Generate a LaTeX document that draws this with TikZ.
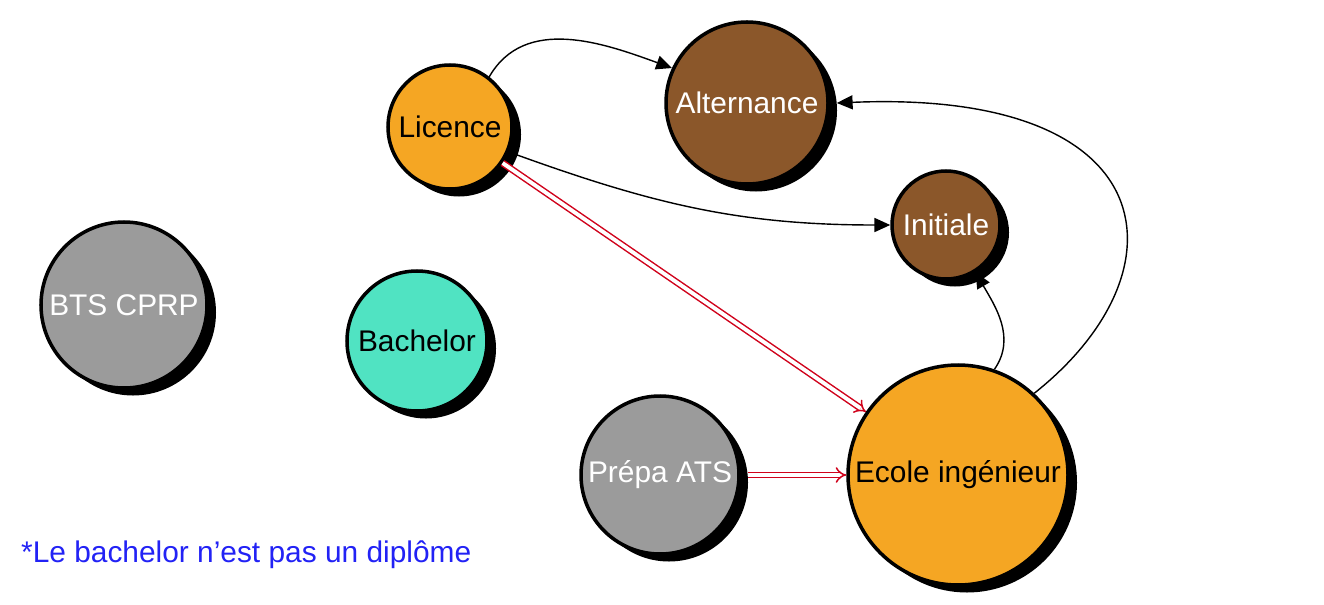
\documentclass[tikz,border=0pt]{standalone}
\usepackage{fontspec}
\setmainfont{Liberation Sans}
\usepackage{tikz}
\usetikzlibrary{shadows}
\usetikzlibrary{arrows.meta}
\definecolor{orangeb}{HTML}{F5A623}
\definecolor{marron}{HTML}{8B572A}
\definecolor{grisb}{HTML}{9B9B9B}
\definecolor{turquoise}{HTML}{50E3C2}
\definecolor{rougeb}{HTML}{D0021B}
\definecolor{bleunote}{HTML}{2222F5}

\begin{document}
\begin{tikzpicture}[
	bulle/.style={circle, draw=black, line width=2pt, inner sep=0pt,
		drop shadow={shadow xshift=0.18cm, shadow yshift=-0.15cm, fill=black, opacity=1},
		font=\fontsize{17}{20}\selectfont},
	fleche/.style={-{Triangle[length=9pt,width=8pt]}, line width=0.8pt},
	passage/.style={draw=rougeb, double=white, double distance=2.2pt, line width=0.85pt, -{Implies[length=6pt]}}
	]
	\useasboundingbox (0,0) rectangle (26.48,12.08);

	% les formations
	\node[bulle, fill=orangeb, minimum size=2.48cm] (licence) at (9.0,9.54) {Licence};
	\node[bulle, fill=marron, text=white, minimum size=3.24cm] (alternance) at (14.94,10.02) {Alternance};
	\node[bulle, fill=marron, text=white, minimum size=2.16cm] (initiale) at (18.92,7.58) {Initiale};
	\node[bulle, fill=grisb, text=white, minimum size=3.32cm] (bts) at (2.48,5.98) {BTS CPRP};
	\node[bulle, fill=turquoise, minimum size=2.80cm] (bachelor) at (8.34,5.26) {Bachelor};
	\node[bulle, fill=grisb, text=white, minimum size=3.16cm] (prepa) at (13.2,2.58) {Prépa ATS};
	\node[bulle, fill=orangeb, minimum size=4.40cm] (ecole) at (19.16,2.58) {Ecole ingénieur};

	% liens
	\draw[fleche] (licence.52) to[out=60, in=160] (alternance.155);
	\draw[fleche] (licence.-23) to[out=-20, in=180] (initiale.west);
	\draw[passage] (licence) -- (ecole);
	\draw[passage, shorten <=4pt] (prepa) -- (ecole);
	\draw[fleche] (ecole.71) to[out=55, in=-60] (initiale.-58);
	\draw[fleche] (ecole.47) .. controls +(3.08,2.44) and +(6.6,0.28) .. ([xshift=4pt]alternance.east);

	\node[anchor=west, text=bleunote, font=\fontsize{17}{20}\selectfont] (note) at (0.3,0.98) {*Le bachelor n’est pas un diplôme};
\end{tikzpicture}
\end{document}
